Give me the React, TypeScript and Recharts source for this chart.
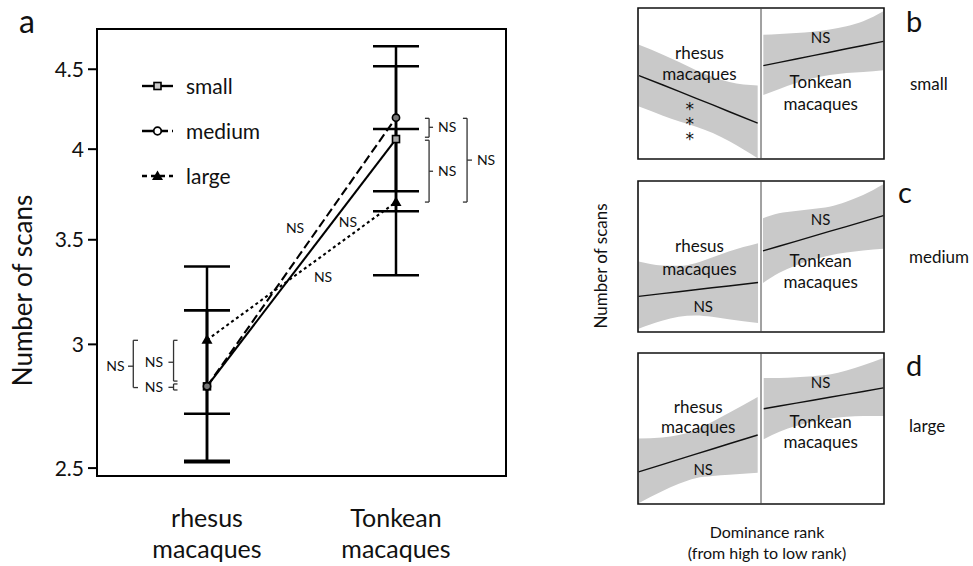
import React from 'react';
import {
  ComposedChart, Line, Area, XAxis, YAxis, ErrorBar, ReferenceArea,
  ReferenceLine, ReferenceDot, Legend,
} from 'recharts';

const FONT = 'Lato, "Noto Sans", sans-serif';

// ---------- Panel a data ----------
const categories = ['rhesus macaques', 'Tonkean macaques'];
const categoryX = [0, 1];
const smallMean = [2.82, 4.06];
const smallLower = [2.527, 3.65];
const smallUpper = [3.155, 4.52];
const mediumMean = [2.82, 4.19];
const mediumLower = [2.522, 3.76];
const mediumUpper = [3.155, 4.655];
const largeMean = [3.02, 3.70];
const largeLower = [2.708, 3.322];
const largeUpper = [3.365, 4.12];
const yTicks = [2.5, 3, 3.5, 4, 4.5];
const yDomain: [number, number] = [2.471, 4.775];
const xDomain: [number, number] = [-0.582, 1.582];

const seriesNames = ['small', 'medium', 'large'];

const mainData = categoryX.map((x, i) => ({
  x,
  small: smallMean[i],
  smallErr: [smallMean[i] - smallLower[i], smallUpper[i] - smallMean[i]],
  medium: mediumMean[i],
  mediumErr: [mediumMean[i] - mediumLower[i], mediumUpper[i] - mediumMean[i]],
  large: largeMean[i],
  largeErr: [largeMean[i] - largeLower[i], largeUpper[i] - largeMean[i]],
}));

// NS annotations near the lines (data coords)
const lineNotes = [
  { x: 0.466, y: 3.561, t: 'NS' },
  { x: 0.746, y: 3.592, t: 'NS' },
  { x: 0.614, y: 3.312, t: 'NS' },
];
// brackets: vertical x, hook end x, y1, y2, tip x, tip y, label x, label anchor
const brackets = [
  { x: 1.175, hx: 1.153, y1: 4.186, y2: 4.071, tx: 1.196, ty: 4.131, lx: 1.222, anchor: 'start' },
  { x: 1.175, hx: 1.153, y1: 4.053, y2: 3.70, tx: 1.196, ty: 3.872, lx: 1.222, anchor: 'start' },
  { x: 1.376, hx: 1.354, y1: 4.186, y2: 3.70, tx: 1.402, ty: 3.936, lx: 1.428, anchor: 'start' },
  { x: -0.390, hx: -0.365, y1: 3.018, y2: 2.815, tx: -0.418, ty: 2.905, lx: -0.436, anchor: 'end' },
  { x: -0.177, hx: -0.156, y1: 3.018, y2: 2.842, tx: -0.204, ty: 2.922, lx: -0.232, anchor: 'end' },
  { x: -0.177, hx: -0.156, y1: 2.83, y2: 2.805, tx: -0.204, ty: 2.816, lx: -0.232, anchor: 'end' },
];

// ---------- Panels b, c, d data ----------
const bRhX = [0.008, 0.203, 0.338, 0.473, 0.608, 0.743, 0.973];
const bRhHigh = [75.7, 69.1, 64.0, 58.7, 54.3, 51.0, 48.6];
const bRhFit = [55.2, 49.0, 44.6, 40.2, 35.9, 31.3, 23.8];
const bRhLow = [34.7, 28.7, 24.9, 21.4, 17.2, 11.7, 0.5];
const bTkX = [1.019, 1.150, 1.286, 1.422, 1.559, 1.695, 1.831, 1.995];
const bTkHigh = [82.3, 82.8, 83.4, 84.3, 85.7, 87.9, 91.2, 97.8];
const bTkFit = [61.8, 64.0, 66.2, 68.5, 70.7, 73.0, 75.2, 77.9];
const bTkLow = [42.4, 46.4, 50.3, 53.4, 55.6, 57.0, 57.6, 58.7];

const cRhX = [0.005, 0.195, 0.331, 0.466, 0.602, 0.737, 0.976];
const cRhHigh = [46.7, 44.1, 43.8, 45.6, 49.3, 53.3, 58.8];
const cRhFit = [23.6, 25.4, 26.7, 28.0, 29.3, 30.5, 32.8];
const cRhLow = [2.2, 7.5, 10.1, 11.0, 10.1, 8.4, 5.9];
const cTkX = [1.016, 1.145, 1.282, 1.419, 1.556, 1.693, 1.830, 1.995];
const cTkHigh = [75.3, 78.6, 80.2, 81.5, 83.0, 86.3, 90.7, 97.8];
const cTkFit = [53.7, 56.8, 60.0, 63.3, 66.6, 69.8, 73.1, 77.1];
const cTkLow = [32.4, 39.0, 44.1, 47.8, 50.7, 52.6, 54.0, 55.1];

const dRhX = [0.005, 0.196, 0.332, 0.469, 0.605, 0.741, 0.973];
const dRhHigh = [43.3, 44.0, 45.7, 48.8, 54.5, 60.4, 70.8];
const dRhFit = [21.3, 26.1, 29.6, 33.0, 36.4, 39.9, 45.7];
const dRhLow = [0.5, 8.4, 13.4, 17.1, 18.5, 19.3, 20.7];
const dTkX = [1.022, 1.150, 1.286, 1.422, 1.559, 1.695, 1.831, 1.995];
const dTkHigh = [83.5, 83.5, 84.0, 84.6, 85.7, 88.4, 91.9, 96.7];
const dTkFit = [63.1, 64.9, 66.8, 68.7, 70.7, 72.6, 74.5, 76.9];
const dTkLow = [42.9, 47.9, 51.6, 54.5, 56.7, 57.8, 58.2, 58.2];

const bTexts = [
  { x: 0.5, y: 70.4, t: 'rhesus' }, { x: 0.5, y: 56.4, t: 'macaques' },
  { x: 0.42, y: 24.8, t: '***' },
  { x: 1.485, y: 80.3, t: 'NS' }, { x: 1.485, y: 51.2, t: 'Tonkean' }, { x: 1.485, y: 36.6, t: 'macaques' },
];
const cTexts = [
  { x: 0.5, y: 57.3, t: 'rhesus' }, { x: 0.5, y: 42.1, t: 'macaques' }, { x: 0.53, y: 17.0, t: 'NS' },
  { x: 1.485, y: 74.4, t: 'NS' }, { x: 1.485, y: 47.4, t: 'Tonkean' }, { x: 1.485, y: 33.5, t: 'macaques' },
];
const dTexts = [
  { x: 0.49, y: 64.6, t: 'rhesus' }, { x: 0.49, y: 51.4, t: 'macaques' }, { x: 0.53, y: 23.1, t: 'NS' },
  { x: 1.485, y: 80.4, t: 'NS' }, { x: 1.485, y: 54.7, t: 'Tonkean' }, { x: 1.485, y: 40.9, t: 'macaques' },
];

// ---------- markers ----------
const drawMarker = (kind: string, cx: number, cy: number, key?: string) => {
  if (cx == null || cy == null || isNaN(cx) || isNaN(cy)) return <g key={key} />;
  if (kind === 'square')
    return <rect key={key} x={cx - 3.5} y={cy - 3.5} width={7} height={7} fill="#aaa" stroke="#000" strokeWidth={1.6} />;
  if (kind === 'circle')
    return <circle key={key} cx={cx} cy={cy} r={3.6} fill="#777" stroke="#000" strokeWidth={1.6} />;
  return <path key={key} d={`M${cx},${cy - 5.5} L${cx + 5.5},${cy + 4} L${cx - 5.5},${cy + 4} Z`} fill="#000" />;
};

const seriesStyle: Record<string, { dash?: string; legendDash?: string; marker: string }> = {
  small: { dash: undefined, legendDash: undefined, marker: 'square' },
  medium: { dash: '9 4', legendDash: '11 4', marker: 'circle' },
  large: { dash: '3 3', legendDash: '5 4', marker: 'triangle' },
};

const renderLegend = () => (
  <svg width={170} height={130} style={{ display: 'block', overflow: 'visible' }}>
    {seriesNames.map((name, i) => {
      const cy = 22 + i * 45;
      const st = seriesStyle[name];
      return (
        <g key={name}>
          <line x1={4} x2={35} y1={cy} y2={cy} stroke="#000" strokeWidth={2.4} strokeDasharray={st.legendDash} />
          {st.marker === 'square' ? <rect x={16} y={cy - 3.5} width={7} height={7} fill="#ccc" stroke="#000" strokeWidth={1.6} />
            : st.marker === 'circle' ? <circle cx={19.5} cy={cy} r={3.8} fill="#fff" stroke="#000" strokeWidth={1.8} />
            : drawMarker('triangle', 19.5, cy)}
          <text x={48} y={cy} dy="0.36em" fontSize={21} fontFamily={FONT} fill="#111">{name}</text>
        </g>
      );
    })}
  </svg>
);

const XTick = (p: any) => {
  const idx = categoryX.indexOf(p.payload?.value);
  const label = idx >= 0 ? categories[idx] : '';
  const [l1, l2] = label.split(' ');
  return (
    <g>
      <text x={p.x} y={p.y + 51} textAnchor="middle" fontSize={25} fontFamily={FONT} fill="#111">{l1}</text>
      <text x={p.x} y={p.y + 82} textAnchor="middle" fontSize={25} fontFamily={FONT} fill="#111">{l2}</text>
    </g>
  );
};

const YLabel = (p: any) => {
  const vb = p.viewBox || { x: 47, y: 29, width: 50, height: 447 };
  const cx = 32;
  const cy = vb.y + vb.height / 2 + 38;
  return (
    <text x={cx} y={cy} transform={`rotate(-90 ${cx} ${cy})`} textAnchor="middle" fontSize={26} fontFamily={FONT} fill="#111">
      Number of scans
    </text>
  );
};

const textShape = (t: string, size: number, anchor: string = 'middle') => (p: any) => {
  if (t === '***') {
    return (
      <text x={p.cx} y={p.cy} textAnchor="middle" fontSize={17} fontFamily='"DejaVu Sans", sans-serif' fill="#111"
        letterSpacing={-5} style={{ writingMode: 'vertical-rl', textOrientation: 'upright' } as any}>
        ***
      </text>
    );
  }
  return <text x={p.cx} y={p.cy} dy="0.36em" textAnchor={anchor as any} fontSize={size} fontFamily={FONT} fill="#111">{t}</text>;
};

function MainChart() {
  return (
    <ComposedChart width={560} height={566} data={mainData} margin={{ top: 29, right: 54, bottom: 10, left: 47 }}>
      <XAxis type="number" dataKey="x" domain={xDomain} ticks={categoryX} allowDataOverflow
        tick={<XTick />} tickLine={false} tickSize={0} tickMargin={0} height={80} interval={0}
        axisLine={{ stroke: '#000', strokeWidth: 2 }} />
      <YAxis type="number" scale="log" domain={yDomain} ticks={yTicks} allowDataOverflow width={50} interval={0}
        tickSize={9} tickMargin={4} tickLine={{ stroke: '#000', strokeWidth: 2 }}
        axisLine={{ stroke: '#000', strokeWidth: 2 }}
        tick={{ fontSize: 21, fill: '#111', fontFamily: FONT }} tickFormatter={(v: number) => String(v)}
        label={<YLabel />} />
      <ReferenceArea x1={xDomain[0]} x2={xDomain[1]} y1={yDomain[0]} y2={yDomain[1]} fill="none" fillOpacity={0}
        stroke="#000" strokeWidth={2} ifOverflow="visible" />
      {seriesNames.map((name) => {
        const st = seriesStyle[name];
        return (
          <Line key={name} dataKey={name} type="linear" stroke="#000" strokeWidth={2.1} strokeDasharray={st.dash}
            isAnimationActive={false} activeDot={false}
            dot={(p: any) => drawMarker(st.marker, p.cx, p.cy, `${name}-${p.index}`)}>
            <ErrorBar dataKey={`${name}Err`} direction="y" width={23} stroke="#000" strokeWidth={2.5} isAnimationActive={false} />
          </Line>
        );
      })}
      {brackets.flatMap((b, i) => [
        <ReferenceLine key={`bv${i}`} segment={[{ x: b.x, y: b.y1 }, { x: b.x, y: b.y2 }]} stroke="#333" strokeWidth={1.3} />,
        <ReferenceLine key={`bt${i}`} segment={[{ x: b.hx, y: b.y1 }, { x: b.x, y: b.y1 }]} stroke="#333" strokeWidth={1.3} />,
        <ReferenceLine key={`bb${i}`} segment={[{ x: b.hx, y: b.y2 }, { x: b.x, y: b.y2 }]} stroke="#333" strokeWidth={1.3} />,
        <ReferenceLine key={`bm${i}`} segment={[{ x: b.x, y: b.ty }, { x: b.tx, y: b.ty }]} stroke="#333" strokeWidth={1.3} />,
        <ReferenceDot key={`bl${i}`} x={b.lx} y={b.ty} r={0} shape={textShape('NS', 14, b.anchor)} />,
      ])}
      {lineNotes.map((n, i) => (
        <ReferenceDot key={`ln${i}`} x={n.x} y={n.y} r={0} shape={textShape(n.t, 14)} />
      ))}
      <Legend content={renderLegend} layout="horizontal" verticalAlign="middle" align="center"
        wrapperStyle={{ left: 138, top: 64, width: 170, height: 130 }} />
    </ComposedChart>
  );
}

type PanelProps = {
  top: number;
  rx: number[]; rLow: number[]; rHigh: number[]; rFit: number[];
  tx: number[]; tLow: number[]; tHigh: number[]; tFit: number[];
  texts: { x: number; y: number; t: string }[];
};

function MiniPanel({ top, rx, rLow, rHigh, rFit, tx, tLow, tHigh, tFit, texts }: PanelProps) {
  const data = [
    ...rx.map((x, i) => ({ x, rBand: [rLow[i], rHigh[i]], rFit: rFit[i] })),
    ...tx.map((x, i) => ({ x, tBand: [tLow[i], tHigh[i]], tFit: tFit[i] })),
  ];
  return (
    <div style={{ position: 'absolute', left: 637, top: top - 1 }}>
      <ComposedChart width={248} height={153} data={data} margin={{ top: 1, right: 1, bottom: 1, left: 1 }}>
        <XAxis type="number" dataKey="x" domain={[0, 2]} hide allowDataOverflow />
        <YAxis type="number" domain={[0, 100]} hide allowDataOverflow />
        <Area dataKey="rBand" type="monotone" fill="#c9c9c9" fillOpacity={1} stroke="none" isAnimationActive={false} connectNulls={false} activeDot={false} />
        <Area dataKey="tBand" type="monotone" fill="#c9c9c9" fillOpacity={1} stroke="none" isAnimationActive={false} connectNulls={false} activeDot={false} />
        <Line dataKey="rFit" type="linear" stroke="#111" strokeWidth={1.4} dot={false} activeDot={false} isAnimationActive={false} connectNulls={false} />
        <Line dataKey="tFit" type="linear" stroke="#111" strokeWidth={1.4} dot={false} activeDot={false} isAnimationActive={false} connectNulls={false} />
        <ReferenceLine x={1} stroke="#444" strokeWidth={1} />
        <ReferenceArea x1={0} x2={2} y1={0} y2={100} fill="none" fillOpacity={0} stroke="#111" strokeWidth={1.6} ifOverflow="visible" />
        {texts.map((t, i) => (
          <ReferenceDot key={i} x={t.x} y={t.y} r={0} shape={textShape(t.t, t.t === 'NS' ? 15 : 17)} />
        ))}
      </ComposedChart>
    </div>
  );
}

export default function App() {
  return (
    <div style={{ position: 'absolute', left: 0, top: 0, width: 973, height: 566, background: '#fff', overflow: 'hidden' }}>
      <svg width={973} height={566} style={{ position: 'absolute', left: 0, top: 0, pointerEvents: 'none' }}>
        <text x={19} y={33} fontSize={32} fontFamily={FONT} fill="#111">a</text>
        <text x={906} y={32} fontSize={29} fontFamily={FONT} fill="#111">b</text>
        <text x={898} y={203} fontSize={29} fontFamily={FONT} fill="#111">c</text>
        <text x={906} y={376} fontSize={29} fontFamily={FONT} fill="#111">d</text>
        <text x={910} y={90} fontSize={17} fontFamily={FONT} fill="#111">small</text>
        <text x={909} y={263} fontSize={17} fontFamily={FONT} fill="#111">medium</text>
        <text x={909} y={432} fontSize={17} fontFamily={FONT} fill="#111">large</text>
        <text x={607} y={266} transform="rotate(-90 607 266)" textAnchor="middle" fontSize={17} fontFamily={FONT} fill="#111">Number of scans</text>
        <text x={767} y={538} textAnchor="middle" fontSize={16} fontFamily={FONT} fill="#111">Dominance rank</text>
        <text x={767} y={559} textAnchor="middle" fontSize={16} fontFamily={FONT} fill="#111">(from high to low rank)</text>
      </svg>
      <div style={{ position: 'absolute', left: 0, top: 0 }}>
        <MainChart />
      </div>
      <MiniPanel top={8} rx={bRhX} rLow={bRhLow} rHigh={bRhHigh} rFit={bRhFit}
        tx={bTkX} tLow={bTkLow} tHigh={bTkHigh} tFit={bTkFit} texts={bTexts} />
      <MiniPanel top={181} rx={cRhX} rLow={cRhLow} rHigh={cRhHigh} rFit={cRhFit}
        tx={cTkX} tLow={cTkLow} tHigh={cTkHigh} tFit={cTkFit} texts={cTexts} />
      <MiniPanel top={353} rx={dRhX} rLow={dRhLow} rHigh={dRhHigh} rFit={dRhFit}
        tx={dTkX} tLow={dTkLow} tHigh={dTkHigh} tFit={dTkFit} texts={dTexts} />
    </div>
  );
}
